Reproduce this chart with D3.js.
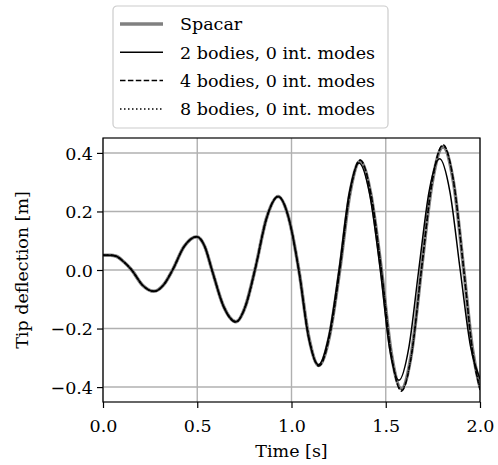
<!DOCTYPE html>
<html>
<head>
<meta charset="utf-8">
<script src="https://cdn.jsdelivr.net/npm/d3@7"></script>
<style>
  body { margin: 0; background: white; }
</style>
</head>
<body>
<div id="canvas"></div>
<script>
var w = 498;
var h = 465;
var margin = {left: 103, right: 18, top: 138, bottom: 63};
var serif = "'DejaVu Serif', 'Liberation Serif', serif";

// Spacar, 4 bodies and 8 bodies share these sample times (s)
var timeRef = [0, 0.04, 0.07, 0.11, 0.152, 0.21, 0.27, 0.32, 0.369, 0.43, 0.497, 0.54, 0.578,
  0.64, 0.705, 0.755, 0.806, 0.868, 0.929, 0.985, 1.039, 1.092, 1.145, 1.20, 1.256, 1.31,
  1.364, 1.42, 1.477, 1.53, 1.583, 1.636, 1.689, 1.746, 1.804, 1.86, 1.914, 1.96, 2.0];

var spacar = [0.05, 0.05, 0.047, 0.028, 0, -0.052, -0.073, -0.052, 0, 0.08, 0.114, 0.08, 0,
  -0.125, -0.177, -0.125, 0, 0.178, 0.251, 0.178, 0, -0.23, -0.326, -0.23, 0, 0.262,
  0.372, 0.262, 0, -0.287, -0.406, -0.287, 0, 0.297, 0.42, 0.297, 0, -0.27, -0.40];

var bodies4 = [0.05, 0.05, 0.047, 0.028, 0, -0.052, -0.073, -0.052, 0, 0.08, 0.114, 0.08, 0,
  -0.125, -0.178, -0.125, 0, 0.178, 0.252, 0.178, 0, -0.231, -0.328, -0.231, 0, 0.264,
  0.376, 0.264, 0, -0.292, -0.414, -0.292, 0, 0.302, 0.428, 0.302, 0, -0.275, -0.41];

var bodies8 = [0.05, 0.05, 0.047, 0.028, 0, -0.052, -0.073, -0.052, 0, 0.08, 0.114, 0.08, 0,
  -0.125, -0.177, -0.125, 0, 0.178, 0.251, 0.178, 0, -0.23, -0.327, -0.23, 0, 0.263,
  0.374, 0.263, 0, -0.29, -0.41, -0.29, 0, 0.3, 0.425, 0.3, 0, -0.273, -0.405];

// 2 bodies runs slightly ahead at the end, so it has its own times
var time2 = [0, 0.04, 0.07, 0.11, 0.152, 0.21, 0.27, 0.32, 0.369, 0.43, 0.497, 0.54, 0.578,
  0.64, 0.705, 0.755, 0.806, 0.868, 0.929, 0.985, 1.038, 1.09, 1.143, 1.197, 1.252, 1.305,
  1.358, 1.415, 1.471, 1.52, 1.570, 1.622, 1.675, 1.73, 1.786, 1.84, 1.895, 1.95, 2.0];

var bodies2 = [0.05, 0.05, 0.047, 0.028, 0, -0.052, -0.073, -0.052, 0, 0.08, 0.114, 0.08, 0,
  -0.125, -0.177, -0.125, 0, 0.178, 0.25, 0.178, 0, -0.229, -0.324, -0.229, 0, 0.258,
  0.366, 0.258, 0, -0.267, -0.377, -0.267, 0, 0.269, 0.38, 0.269, 0, -0.262, -0.372];

var xTicks = [0.0, 0.5, 1.0, 1.5, 2.0];
var yTicks = [-0.4, -0.2, 0.0, 0.2, 0.4];

var seriesNames = ["Spacar", "2 bodies, 0 int. modes", "4 bodies, 0 int. modes", "8 bodies, 0 int. modes"];

var svg = d3.select("#canvas").append("svg")
  .attr("width", w)
  .attr("height", h)
  .style("background-color", "white");

var xScale = d3.scaleLinear()
  .domain([0, 2])
  .range([margin.left, w - margin.right]);

var yScale = d3.scaleLinear()
  .domain([-0.451, 0.451])
  .range([h - margin.bottom, margin.top]);

// grid
svg.append("g").selectAll("line").data(xTicks).enter().append("line")
  .attr("x1", d => xScale(d)).attr("x2", d => xScale(d))
  .attr("y1", margin.top).attr("y2", h - margin.bottom)
  .attr("stroke", "#b0b0b0").attr("stroke-width", 1.4);
svg.append("g").selectAll("line").data(yTicks).enter().append("line")
  .attr("y1", d => yScale(d)).attr("y2", d => yScale(d))
  .attr("x1", margin.left).attr("x2", w - margin.right)
  .attr("stroke", "#b0b0b0").attr("stroke-width", 1.4);

var styles = [
  {color: "#808080", width: 3.5, dash: null},
  {color: "black", width: 1.5, dash: null},
  {color: "black", width: 1.5, dash: "5.5,2.4"},
  {color: "black", width: 1.5, dash: "1.5,2.5"}
];

var seriesData = [
  d3.zip(timeRef, spacar),
  d3.zip(time2, bodies2),
  d3.zip(timeRef, bodies4),
  d3.zip(timeRef, bodies8)
];

var line = d3.line()
  .x(d => xScale(d[0]))
  .y(d => yScale(d[1]))
  .curve(d3.curveMonotoneX);

svg.append("defs").append("clipPath").attr("id", "clip")
  .append("rect")
  .attr("x", margin.left).attr("y", margin.top)
  .attr("width", w - margin.left - margin.right)
  .attr("height", h - margin.top - margin.bottom);

seriesData.forEach(function(d, i) {
  svg.append("path")
    .attr("clip-path", "url(#clip)")
    .attr("d", line(d))
    .attr("fill", "none")
    .attr("stroke", styles[i].color)
    .attr("stroke-width", styles[i].width)
    .attr("stroke-dasharray", styles[i].dash);
});

// axes
var xAxis = d3.axisBottom(xScale).tickValues(xTicks).tickFormat(d3.format(".1f")).tickSize(6).tickSizeOuter(0);
var yAxis = d3.axisLeft(yScale).tickValues(yTicks).tickFormat(d => d3.format(".1f")(d).replace("-", "\u2212")).tickSize(6).tickSizeOuter(0);

var gx = svg.append("g")
  .attr("transform", `translate(0,${h - margin.bottom})`)
  .call(xAxis);
var gy = svg.append("g")
  .attr("transform", `translate(${margin.left},0)`)
  .call(yAxis);

[gx, gy].forEach(function(g) {
  g.attr("font-family", null).attr("font-size", null);
  g.select(".domain").remove();
  g.selectAll(".tick line").attr("stroke", "black").attr("stroke-width", 1.2);
  g.selectAll(".tick text")
    .style("font-family", serif)
    .style("font-size", "17.5px")
    .attr("fill", "black");
});
gx.selectAll(".tick text").attr("dy", "1.2em");
gy.selectAll(".tick text").attr("x", -10).attr("dy", "0.36em");

// spines
svg.append("rect")
  .attr("x", margin.left).attr("y", margin.top)
  .attr("width", w - margin.left - margin.right)
  .attr("height", h - margin.top - margin.bottom)
  .attr("fill", "none").attr("stroke", "black").attr("stroke-width", 1.2);

// axis labels
svg.append("text")
  .attr("x", (margin.left + w - margin.right) / 2)
  .attr("y", 457)
  .attr("text-anchor", "middle")
  .style("font-family", serif)
  .style("font-size", "17.5px")
  .text("Time [s]");

svg.append("text")
  .attr("transform", `translate(28,${(margin.top + h - margin.bottom) / 2}) rotate(-90)`)
  .attr("text-anchor", "middle")
  .style("font-family", serif)
  .style("font-size", "17.5px")
  .text("Tip deflection [m]");

// legend
var legend = svg.append("g");
legend.append("rect")
  .attr("x", 113).attr("y", 6)
  .attr("width", 275).attr("height", 122)
  .attr("rx", 4)
  .attr("fill", "white").attr("fill-opacity", 0.8)
  .attr("stroke", "#cccccc").attr("stroke-width", 1.2);

seriesNames.forEach(function(name, i) {
  var yRow = 24 + i * 28.3;
  legend.append("line")
    .attr("x1", 120).attr("x2", 163)
    .attr("y1", yRow).attr("y2", yRow)
    .attr("stroke", styles[i].color)
    .attr("stroke-width", styles[i].width)
    .attr("stroke-dasharray", styles[i].dash);
  legend.append("text")
    .attr("x", 180)
    .attr("y", yRow)
    .attr("dy", "0.36em")
    .style("font-family", serif)
    .style("font-size", "17.5px")
    .text(name);
});
</script>
</body>
</html>
